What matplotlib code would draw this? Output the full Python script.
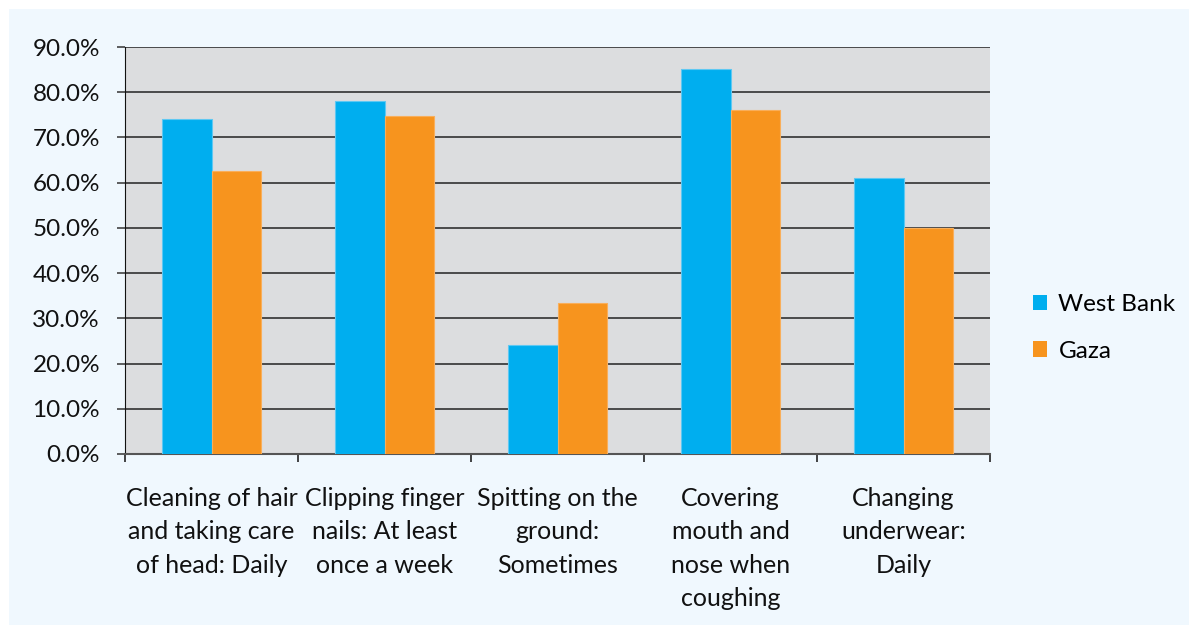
import numpy as np
import matplotlib.pyplot as plt
from matplotlib.patches import Rectangle

categories = ['Cleaning of hair\nand taking care\nof head: Daily',
              'Clipping finger\nnails: At least\nonce a week',
              'Spitting on the\nground:\nSometimes',
              'Covering\nmouth and\nnose when\ncoughing',
              'Changing\nunderwear:\nDaily']
west_bank = [74.1, 78.1, 24.1, 85.1, 61.0]
gaza = [62.6, 74.7, 33.4, 76.1, 50.0]
yticks = np.arange(0, 91, 10)

plt.rcParams['font.family'] = ['Lato', 'DejaVu Sans']

W, H = 1189, 625
fig = plt.figure(figsize=(W / 100, H / 100), dpi=100, facecolor='white')
# light blue panel with white strip at top/left
fig.patches.append(Rectangle((9 / W, 0), 1, 1 - 9 / H, transform=fig.transFigure,
                             facecolor='#F0F8FE', edgecolor='none', zorder=-10))

ax = fig.add_axes([125 / W, 1 - 454 / H, (990 - 125) / W, (454 - 47) / H])
ax.set_facecolor('#DCDDDF')

x = np.arange(len(categories))
bw = 0.286
ax.bar(x - bw / 2, west_bank, bw, color='#00AEEF', edgecolor='#5EC8F2', linewidth=0.8,
       label='West Bank', zorder=3)
ax.bar(x + bw / 2, gaza, bw, color='#F7941E', edgecolor='#F9AE5A', linewidth=0.8,
       label='Gaza', zorder=3)

fs = 17.5
ax.set_xlim(-0.5, len(categories) - 0.5)
ax.set_ylim(0, 90)
ax.set_yticks(yticks)
ax.set_yticklabels([f'{v:.1f}%' for v in yticks], fontsize=fs, color='#111111')
ax.yaxis.grid(True, color='#222222', linewidth=1.1, zorder=1)
ax.tick_params(axis='y', length=6, width=1.1, color='#333333', pad=12)

ax.set_xticks(np.arange(-0.5, len(categories), 1))
ax.set_xticklabels([])
ax.tick_params(axis='x', length=6, width=1.1, color='#111111')
for i, c in enumerate(categories):
    ax.text(i, -7.2, c, ha='center', va='top', fontsize=18, color='#111111',
            linespacing=1.56, transform=ax.transData)

for s in ['top', 'right']:
    ax.spines[s].set_visible(False)
ax.spines['left'].set_color('#111111')
ax.spines['bottom'].set_color('#555555')
ax.spines['bottom'].set_linewidth(1.5)

leg = fig.legend(loc='center left', bbox_to_anchor=(1011 / W, 1 - 328 / H), frameon=False,
                 fontsize=fs, handlelength=0.6, handleheight=0.6, handletextpad=0.45,
                 labelspacing=1.05)
for h in leg.legend_handles:
    h.set_edgecolor('none')

fig.savefig('out.png', dpi=100, facecolor='white')
